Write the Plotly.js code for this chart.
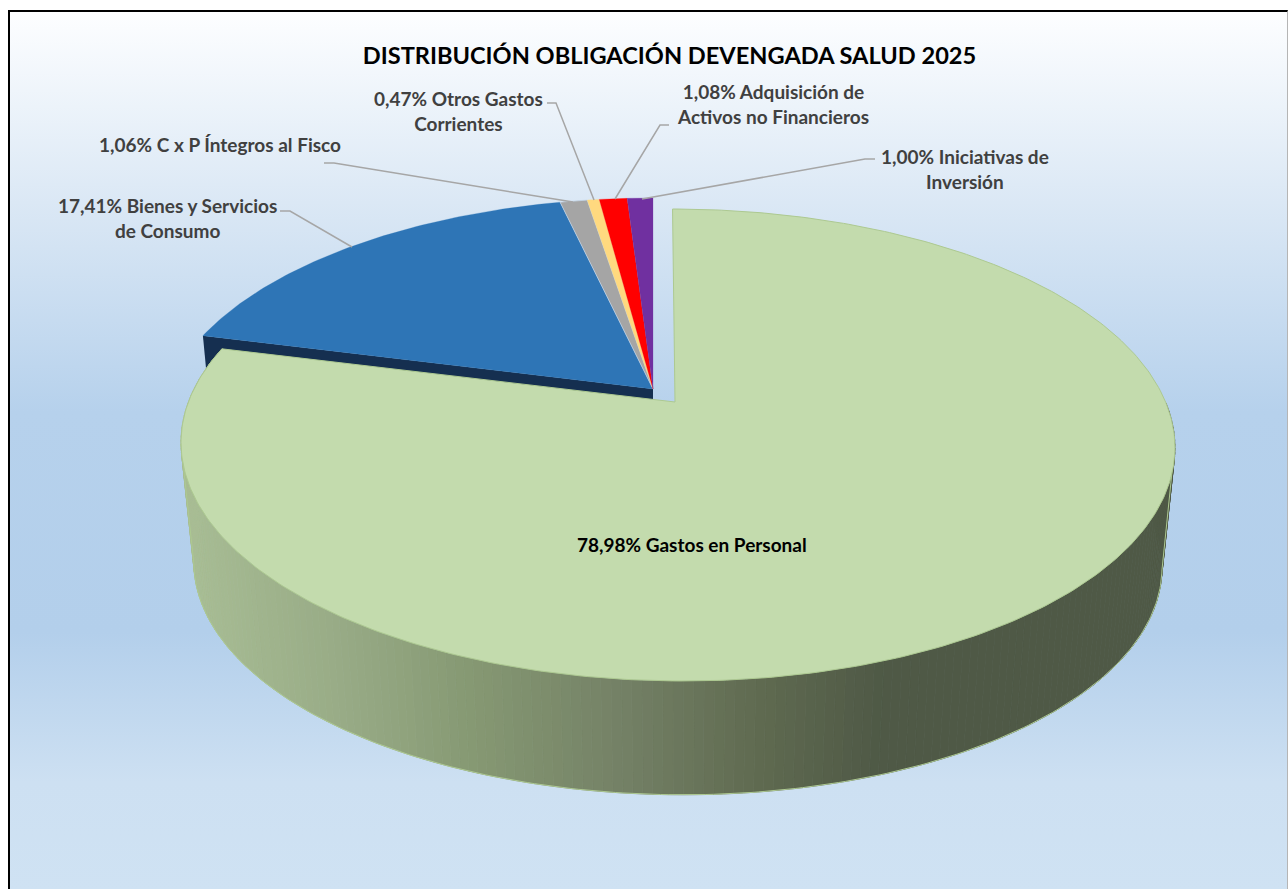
<!DOCTYPE html>
<html>
<head>
<meta charset="utf-8">
<script src="https://cdn.plot.ly/plotly-3.0.1.min.js"></script>
<style>
html,body{margin:0;padding:0;background:#fff;overflow:hidden;width:1288px;height:889px}
#frame{position:absolute;left:8px;top:10px;width:1277px;height:879px;border-left:2px solid #000;border-top:2px solid #000;border-right:1px solid #b5b5b5;
background:linear-gradient(to bottom,#fdfeff 0px,#dbe8f5 190px,#b6d1ec 400px,#b3cfeb 620px,#cde0f2 770px,#cfe2f3 879px)}
#chart{position:absolute;left:0;top:0;width:1288px;height:889px}
</style>
</head>
<body>
<div id="frame"></div>
<div id="chart"></div>
<script>
const chartTitle = 'DISTRIBUCIÓN OBLIGACIÓN DEVENGADA SALUD 2025';
const sliceNames = ['Gastos en Personal','Bienes y Servicios<br>de Consumo','C x P Íntegros al Fisco','Otros Gastos<br>Corrientes','Adquisición de<br>Activos no Financieros','Iniciativas de<br>Inversión'];
const sliceValues = [78.98,17.41,1.06,0.47,1.08,1.00];
const sliceColors = ['#c3dbad','#2e75b6','#a5a5a5','#ffd97f','#ff0000','#7030a0'];

// 3D pie geometry (pixel scale of the hidden axes)
const K = 0.178, DEPTH = 121, SHRINK = 0.974;
const mainPie = {cx:677, cy:403, a:489, b:228.5, shear:0.023};
const restPie = {cx:653, cy:389, a:485, b:225, shear:0};
const mainApex = [675,402];

function proj(theta, pie, low){
  const t = theta*Math.PI/180, u = Math.sin(t), v = -Math.cos(t), d = 1-K*v, s = low?SHRINK:1;
  const dy = s*pie.b*v/d;
  return [pie.cx + s*pie.a*u/d + pie.shear*dy, pie.cy + (low?DEPTH:0) + dy];
}
function arc(a0,a1,pie,low){
  const n = Math.max(2,Math.ceil(Math.abs(a1-a0)/0.75)), pts=[];
  for(let i=0;i<=n;i++) pts.push(proj(a0+(a1-a0)*i/n,pie,low));
  return pts;
}
function poly(pts,fill,lineColor,lineWidth){
  return {type:'scatter',mode:'lines',x:pts.map(p=>p[0]),y:pts.map(p=>p[1]),fill:'toself',fillcolor:fill,
    line:{color:lineColor||fill,width:lineWidth===undefined?0:lineWidth},hoverinfo:'skip',showlegend:false};
}
function hex(c){return [1,3,5].map(i=>parseInt(c.substr(i,2),16));}
const wallStops = [[180,'#a9be95'],[350,'#97aa85'],[470,'#869973'],[620,'#748166'],[760,'#5f6a50'],[880,'#4f5946'],[1200,'#4f5946']];
function wallColor(x){
  for(let i=1;i<wallStops.length;i++){
    if(x<=wallStops[i][0]){
      const [x0,c0]=wallStops[i-1],[x1,c1]=wallStops[i],f=Math.max(0,(x-x0)/(x1-x0));
      const A=hex(c0),B=hex(c1);
      return 'rgb('+A.map((v,j)=>Math.round(v+(B[j]-v)*f)).join(',')+')';
    }
  }
  return wallStops[wallStops.length-1][1];
}

const angles=[0];
sliceValues.forEach(v=>angles.push(angles[angles.length-1]+v*3.6));
const traces=[];

// side wall of the other slices, seen through the cut, then their tops
traces.push(poly([proj(angles[1],restPie),[restPie.cx,restPie.cy],[restPie.cx,restPie.cy+DEPTH],proj(angles[1],restPie,true)],'#152f50'));
[1,2,3,4,5].forEach(i=>{
  const pts=[[restPie.cx,restPie.cy]].concat(arc(angles[i],angles[i+1],restPie));
  pts.push([restPie.cx,restPie.cy]);
  traces.push(poly(pts,sliceColors[i],i===2?'#c3d6ea':sliceColors[i],i===2?0.75:0.25));
});

// front wall of the main slice, as shaded strips
const stripStep=1;
for(let t=90;t<angles[1];t+=stripStep){
  const t1=Math.min(t+stripStep,angles[1]);
  const a=proj(t,mainPie),b=proj(t1,mainPie),c=proj(t1,mainPie,true),d=proj(t,mainPie,true);
  const col=wallColor((a[0]+b[0]+c[0]+d[0])/4);
  traces.push(poly([a,b,c,d,a],col,col,0.8));
}
const lowRim=[proj(100,mainPie)].concat(arc(100,260,mainPie,true),[proj(260,mainPie)]);
traces.push({type:'scatter',mode:'lines',x:lowRim.map(p=>p[0]),y:lowRim.map(p=>p[1]),line:{color:'#adc991',width:1},hoverinfo:'skip',showlegend:false});

// top of the main slice
const mainTop=[mainApex].concat(arc(angles[0],angles[1],mainPie));
mainTop.push(mainApex);
traces.push(poly(mainTop,sliceColors[0],'#adc991',1));

// leader lines
const leaders=[
 [[280,211],[290,211],[352,247]],
 [[324,163],[334,163],[573,202]],
 [[547,103],[556,103],[594,200]],
 [[669,125],[660,125],[615,199]],
 [[875,159],[865,159],[642,199]]
];
leaders.forEach(l=>traces.push({type:'scatter',mode:'lines',x:l.map(p=>p[0]),y:l.map(p=>p[1]),line:{color:'#a6a6a6',width:1.5},hoverinfo:'skip',showlegend:false}));

const labelPos=[[692,544],[167,218],[220,144],[458,111],[773,104],[965,169]];
const annotations=sliceValues.map((v,i)=>({
  xref:'x',yref:'y',x:labelPos[i][0],y:labelPos[i][1],xanchor:'center',yanchor:'middle',showarrow:false,align:'center',
  text:'<b>'+v.toFixed(2).replace('.',',')+'% '+sliceNames[i].replace('<br>','</b><br><b>')+'</b>',
  font:{family:'Lato, sans-serif',size:19,color:i===0?'#000000':'#404040'}
}));

Plotly.newPlot('chart',traces,{
  width:1288,height:889,margin:{l:0,r:0,t:0,b:0},
  paper_bgcolor:'rgba(0,0,0,0)',plot_bgcolor:'rgba(0,0,0,0)',showlegend:false,hovermode:false,
  title:{text:'<b>'+chartTitle+'</b>',x:669.5/1288,xanchor:'center',y:1-56/889,yanchor:'middle',font:{family:'Lato, sans-serif',size:23.6,color:'#000000'}},
  xaxis:{range:[0,1288],visible:false,fixedrange:true},
  yaxis:{range:[889,0],visible:false,fixedrange:true},
  annotations:annotations
},{displayModeBar:false,staticPlot:true});
</script>
</body>
</html>
